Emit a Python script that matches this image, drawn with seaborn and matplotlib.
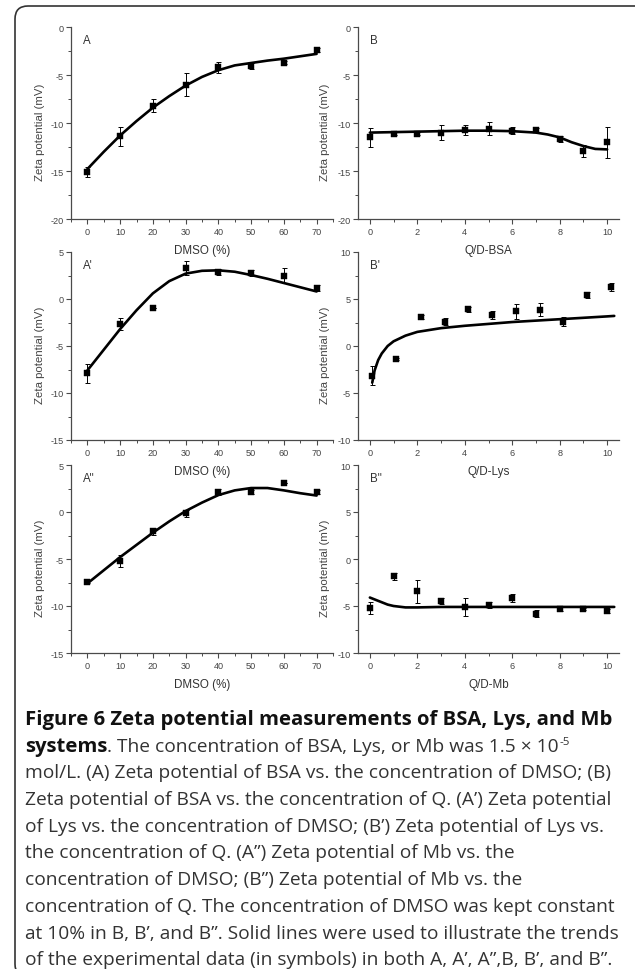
import matplotlib
matplotlib.use("Agg")
import matplotlib.pyplot as plt
from matplotlib.patches import FancyBboxPatch
from matplotlib.ticker import MultipleLocator
from matplotlib.transforms import IdentityTransform
import seaborn as sns
import pandas as pd

# measured points
dmso = [0, 10, 20, 30, 40, 50, 60, 70]
q_ratio = [0, 1, 2, 3, 4, 5, 6, 7, 8, 9, 10]
q_ratio_lys = [0.1, 1.1, 2.15, 3.15, 4.15, 5.15, 6.15, 7.15, 8.15, 9.15, 10.15]

bsa_dmso = [-15.1, -11.4, -8.2, -6.0, -4.2, -4.1, -3.7, -2.4]
bsa_dmso_err = [0.55, 1.0, 0.7, 1.2, 0.55, 0.3, 0.2, 0.2]
lys_dmso = [-7.9, -2.7, -1.0, 3.3, 2.9, 2.8, 2.5, 1.15]
lys_dmso_err = [1.0, 0.65, 0.0, 0.7, 0.3, 0.3, 0.8, 0.3]
mb_dmso = [-7.4, -5.2, -2.05, -0.15, 2.1, 2.15, 3.1, 2.15]
mb_dmso_err = [0.2, 0.6, 0.35, 0.4, 0.3, 0.2, 0.0, 0.2]

bsa_q = [-11.5, -11.1, -11.1, -11.0, -10.7, -10.6, -10.8, -10.7, -11.7, -12.9, -12.0]
bsa_q_err = [1.0, 0.15, 0.15, 0.75, 0.5, 0.7, 0.35, 0.2, 0.3, 0.6, 1.6]
lys_q = [-3.15, -1.4, 3.05, 2.6, 3.9, 3.3, 3.7, 3.85, 2.6, 5.45, 6.25]
lys_q_err = [1.05, 0.1, 0.2, 0.4, 0.3, 0.4, 0.8, 0.7, 0.5, 0.3, 0.4]
mb_q = [-5.2, -1.85, -3.45, -4.5, -5.15, -4.9, -4.15, -5.8, -5.35, -5.3, -5.5]
mb_q_err = [0.6, 0.35, 1.25, 0.3, 0.95, 0.3, 0.4, 0.35, 0.2, 0.1, 0.2]

# trend lines
fit_dmso_x = [0, 5, 10, 15, 20, 25, 30, 35, 40, 45, 50, 55, 60, 65, 70]
bsa_dmso_fit = [-14.8, -13.0, -11.3, -9.8, -8.4, -7.2, -6.1, -5.2, -4.5, -4.0, -3.75, -3.5, -3.3, -3.05, -2.8]
lys_dmso_fit = [-7.6, -5.4, -3.2, -1.2, 0.6, 1.9, 2.7, 3.0, 3.05, 2.9, 2.55, 2.15, 1.7, 1.25, 0.8]
mb_dmso_fit = [-7.6, -6.2, -4.8, -3.5, -2.2, -1.0, 0.1, 1.0, 1.8, 2.3, 2.55, 2.55, 2.3, 2.0, 1.75]

bsa_q_fit_x = [0, 1, 2, 3, 4, 5, 6, 7, 7.5, 8, 8.5, 9, 9.5, 10]
bsa_q_fit = [-11.0, -10.95, -10.9, -10.85, -10.8, -10.8, -10.85, -11.0, -11.2, -11.5, -12.0, -12.4, -12.7, -12.75]
lys_q_fit_x = [0.1, 0.2, 0.35, 0.5, 0.75, 1, 1.5, 2, 3, 4, 5, 6, 7, 8, 9, 10, 10.3]
lys_q_fit = [-3.9, -2.6, -1.5, -0.8, 0.0, 0.5, 1.1, 1.5, 1.9, 2.15, 2.35, 2.55, 2.7, 2.85, 3.0, 3.15, 3.2]
mb_q_fit_x = [0, 0.25, 0.5, 0.75, 1, 1.5, 2, 3, 4, 6, 8, 10, 10.3]
mb_q_fit = [-4.1, -4.35, -4.6, -4.85, -5.0, -5.15, -5.15, -5.1, -5.1, -5.1, -5.1, -5.1, -5.1]

W, H = 635, 970
sns.set_style("ticks")
plt.rcParams["font.family"] = ["Liberation Sans", "DejaVu Sans"]
plt.rcParams["axes.unicode_minus"] = False

fig = plt.figure(figsize=(W / 100, H / 100), dpi=100)


def px_axes(left, top, right, bottom):
    ax = fig.add_axes([left / W, 1 - bottom / H, (right - left) / W, (bottom - top) / H])
    ax.set_facecolor("none")
    return ax


def panel(ax, x, y, err, fx, fy, letter, xlabel, xlim, ylim, xmaj, xmin):
    pts = pd.DataFrame({"x": x, "y": y})
    fit = pd.DataFrame({"x": fx, "y": fy})
    sns.lineplot(data=fit, x="x", y="y", ax=ax, color="black", linewidth=1.9, sort=False)
    ax.errorbar(x, y, yerr=err, fmt="none", ecolor="black", elinewidth=0.7, capsize=1.8, capthick=0.7)
    sns.scatterplot(data=pts, x="x", y="y", ax=ax, marker="s", s=16, color="black",
                    edgecolor="black", linewidth=0.3, zorder=5)
    ax.set_xlim(*xlim)
    ax.set_ylim(*ylim)
    ax.xaxis.set_major_locator(MultipleLocator(xmaj))
    ax.xaxis.set_minor_locator(MultipleLocator(xmin))
    ax.yaxis.set_major_locator(MultipleLocator(5))
    ax.yaxis.set_minor_locator(MultipleLocator(2.5))
    # no tick at xlim edges
    ax.set_xticks([t for t in ax.get_xticks() if xlim[0] < t < xlim[1] + 0.01])
    sns.despine(ax=ax)
    for s in ("left", "bottom"):
        ax.spines[s].set_color("#4a4a4a")
        ax.spines[s].set_linewidth(0.9)
    ax.tick_params(which="major", direction="out", length=3.5, width=0.8, color="#4a4a4a",
                   labelsize=6.6, labelcolor="#444444", pad=2)
    ax.tick_params(which="minor", direction="out", length=2, width=0.7, color="#4a4a4a")
    ax.set_xlabel(xlabel, fontsize=8.4, color="#333333", labelpad=6)
    ax.set_ylabel("Zeta potential (mV)", fontsize=8.2, color="#444444")
    ax.text(12 / 262, 1 - 7 / 192, letter, transform=ax.transAxes, fontsize=8.3,
            color="#333333", va="top", ha="left")


rows = [(28, 220), (253, 441), (466, 654)]
cols = [(71, 333), (358, 619)]

left_data = [
    (bsa_dmso, bsa_dmso_err, bsa_dmso_fit, "A", (-20, 0)),
    (lys_dmso, lys_dmso_err, lys_dmso_fit, "A'", (-15, 5)),
    (mb_dmso, mb_dmso_err, mb_dmso_fit, 'A"', (-15, 5)),
]
right_data = [
    (q_ratio, bsa_q, bsa_q_err, bsa_q_fit_x, bsa_q_fit, "B", "Q/D-BSA", (-20, 0)),
    (q_ratio_lys, lys_q, lys_q_err, lys_q_fit_x, lys_q_fit, "B'", "Q/D-Lys", (-10, 10)),
    (q_ratio, mb_q, mb_q_err, mb_q_fit_x, mb_q_fit, 'B"', "Q/D-Mb", (-10, 10)),
]

for (top, bottom), (y, err, fy, letter, ylim) in zip(rows, left_data):
    ax = px_axes(cols[0][0], top, cols[0][1], bottom)
    panel(ax, dmso, y, err, fit_dmso_x, fy, letter, "DMSO (%)", (-5, 75), ylim, 10, 5)
    ax.yaxis.set_label_coords(-26 / 262, 0.458)

for (top, bottom), (x, y, err, fx, fy, letter, xl, ylim) in zip(rows, right_data):
    ax = px_axes(cols[1][0], top, cols[1][1], bottom)
    panel(ax, x, y, err, fx, fy, letter, xl, (-0.5, 10.5), ylim, 2, 1)
    ax.yaxis.set_label_coords(-28 / 261, 0.458)

# rounded frame around the figure
frame = FancyBboxPatch((15, -8), 640, H - 7 + 8, boxstyle="round,pad=0,rounding_size=13",
                       transform=IdentityTransform(), facecolor="none", edgecolor="#333333",
                       linewidth=1.2)
fig.add_artist(frame)

# caption
cap_font = ["Open Sans", "DejaVu Sans"]
cap_size = 13.75
bold_size = 14.6
cap_color = "#333333"
x0 = 25 / W
base0 = 725
step = 26.7


def fy_(i):
    return 1 - (base0 + i * step) / H


fig.text(x0, fy_(0), "Figure 6 Zeta potential measurements of BSA, Lys, and Mb",
         family=cap_font, fontsize=bold_size, fontweight="bold", color="#111111", va="baseline")
renderer = fig.canvas.get_renderer()
t_bold = fig.text(x0, fy_(1), "systems", family=cap_font, fontsize=bold_size,
                  fontweight="bold", color="#111111", va="baseline")
bb = t_bold.get_window_extent(renderer)
t_rest = fig.text(bb.x1 / W, fy_(1), ". The concentration of BSA, Lys, or Mb was 1.5 \u00d7 10",
                  family=cap_font, fontsize=cap_size, color=cap_color, va="baseline")
bb2 = t_rest.get_window_extent(renderer)
fig.text(bb2.x1 / W + 0.5 / W, fy_(1) + 7 / H, "-5", family=cap_font, fontsize=cap_size * 0.6,
         color=cap_color, va="baseline")

caption_lines = [
    "mol/L. (A) Zeta potential of BSA vs. the concentration of DMSO; (B)",
    "Zeta potential of BSA vs. the concentration of Q. (A\u2019) Zeta potential",
    "of Lys vs. the concentration of DMSO; (B\u2019) Zeta potential of Lys vs.",
    "the concentration of Q. (A\u201d) Zeta potential of Mb vs. the",
    "concentration of DMSO; (B\u201d) Zeta potential of Mb vs. the",
    "concentration of Q. The concentration of DMSO was kept constant",
    "at 10% in B, B\u2019, and B\u201d. Solid lines were used to illustrate the trends",
    "of the experimental data (in symbols) in both A, A\u2019, A\u201d,B, B\u2019, and B\u201d.",
]
for i, line in enumerate(caption_lines):
    fig.text(x0, fy_(i + 2), line, family=cap_font, fontsize=cap_size, color=cap_color,
             va="baseline")

fig.savefig("out.png", dpi=100)
